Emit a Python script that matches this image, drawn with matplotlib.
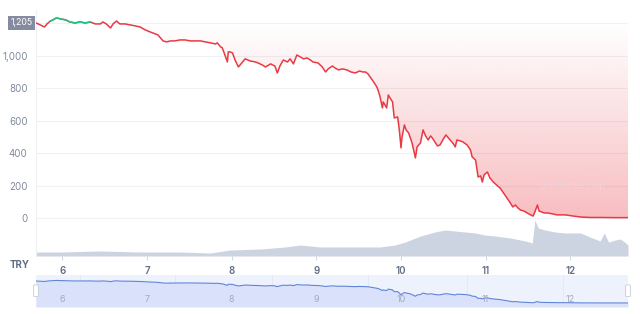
"""Price chart, TRY quote, with volume strip and navigator below."""

import matplotlib

matplotlib.use("Agg")
import matplotlib.pyplot as plt
import numpy as np
from matplotlib.patches import FancyBboxPatch, PathPatch

RED = "#ea3943"
GREEN = "#16c784"
VOLC = "#cdd4e1"
GRID = "#eff1f4"
MUTED = "#808a9d"
INK = "#616e85"
NAVBG = "#eef2fd"
NAVFILL = "#d9e2fa"
NAVLINE = "#5f84d8"

plt.rcParams.update({"font.family": ["Inter", "DejaVu Sans"], "font.size": 7})

# price series (x = day number)
DAYS = [5.69, 5.74, 5.79, 5.82, 5.86, 5.89, 5.93, 5.98, 6.04, 6.09, 6.15, 6.21,
        6.27, 6.33, 6.39, 6.45, 6.48, 6.52, 6.57, 6.60, 6.64, 6.68, 6.74, 6.80,
        6.86, 6.92, 6.98, 7.04, 7.10, 7.13, 7.16, 7.19, 7.23, 7.28, 7.33, 7.39,
        7.45, 7.51, 7.57, 7.63, 7.69, 7.75, 7.81, 7.83, 7.87, 7.89, 7.92, 7.95,
        7.96, 7.98, 8.01, 8.04, 8.08, 8.13, 8.16, 8.22, 8.28, 8.31, 8.36, 8.40,
        8.46, 8.51, 8.54, 8.57, 8.61, 8.66, 8.69, 8.73, 8.77, 8.81, 8.85, 8.89,
        8.93, 8.96, 9.02, 9.07, 9.11, 9.14, 9.19, 9.22, 9.26, 9.31, 9.36, 9.41,
        9.46, 9.51, 9.55, 9.58, 9.61, 9.66, 9.70, 9.72, 9.75, 9.78, 9.79, 9.83,
        9.85, 9.87, 9.90, 9.92, 9.96, 9.98, 10.00, 10.01, 10.04, 10.06, 10.09,
        10.11, 10.13, 10.17, 10.19, 10.23, 10.26, 10.29, 10.32, 10.35, 10.37,
        10.40, 10.43, 10.46, 10.50, 10.53, 10.56, 10.58, 10.62, 10.64, 10.66,
        10.70, 10.73, 10.78, 10.82, 10.84, 10.88, 10.91, 10.94, 10.96, 10.98,
        11.02, 11.05, 11.09, 11.14, 11.17, 11.21, 11.25, 11.29, 11.32, 11.35,
        11.38, 11.41, 11.45, 11.49, 11.53, 11.56, 11.58, 11.61, 11.63, 11.66,
        11.69, 11.73, 11.79, 11.84, 11.94, 12.03, 12.12, 12.23, 12.35, 12.53,
        12.68]
PRICE = [1205, 1193, 1180, 1199, 1217, 1224, 1236, 1230, 1224, 1211, 1205, 1211,
         1205, 1211, 1199, 1199, 1211, 1199, 1174, 1199, 1217, 1199, 1199, 1193,
         1187, 1180, 1162, 1149, 1137, 1131, 1112, 1094, 1088, 1094, 1094, 1100,
         1100, 1094, 1094, 1094, 1088, 1082, 1075, 1082, 1057, 1051, 1007, 964,
         1026, 1026, 1020, 976, 933, 964, 983, 970, 964, 958, 946, 933,
         952, 939, 896, 939, 976, 964, 983, 952, 1007, 995, 983, 989,
         976, 964, 958, 933, 902, 921, 939, 927, 915, 921, 915, 902,
         896, 908, 902, 902, 890, 853, 822, 803, 754, 680, 717, 680,
         760, 742, 717, 618, 624, 544, 433, 494, 575, 544, 525,
         494, 464, 371, 439, 464, 544, 507, 482, 507, 494,
         470, 445, 451, 488, 513, 494, 482, 457, 439, 482,
         476, 470, 451, 420, 377, 358, 253, 260, 222, 266,
         284, 247, 222, 198, 185, 155, 124, 93, 68, 80,
         62, 49, 43, 31, 19, 12, 37, 80, 43, 37,
         31, 31, 25, 19, 19, 12, 6, 3, 3, 2,
         2]
OPEN_PRICE = 1205

# volume, relative units
VOL_DAYS = [5.69, 5.98, 6.45, 6.92, 7.39, 7.75, 7.98, 8.34, 8.63, 8.81, 9.05,
            9.40, 9.75, 9.93, 10.05, 10.23, 10.40, 10.52, 10.64, 10.76, 10.88,
            10.99, 11.11, 11.29, 11.47, 11.55, 11.58, 11.62, 11.70, 11.82,
            11.94, 12.12, 12.23, 12.35, 12.40, 12.45, 12.53, 12.59, 12.64, 12.68]
VOLUME = [4, 4, 5, 4, 4, 3, 6, 7, 9, 11, 9,
          9, 9, 11, 14, 20, 24, 26, 25, 24, 23,
          21, 20, 18, 15, 13, 36, 28, 26, 24,
          23, 23, 19, 15, 23, 14, 16, 17, 14, 11]

DAY_TICKS = [6, 7, 8, 9, 10, 11, 12]
PRICE_TICKS = [0, 200, 400, 600, 800, 1000]
NAV_GRID = [6.21, 7.33, 8.48, 9.61, 10.78, 11.91]

XMIN, XMAX = 5.69, 12.68

days = np.array(DAYS)
price = np.array(PRICE, dtype=float)

fig = plt.figure(figsize=(6.4, 3.14), dpi=100)
rect = [36 / 640, 58 / 314, 592 / 640, 246 / 314]

# volume strip sits behind the price axes
axv = fig.add_axes(rect)
axv.fill_between(VOL_DAYS, VOLUME, 0, color=VOLC, lw=0)
axv.set_xlim(XMIN, XMAX)
axv.set_ylim(0, 246)
axv.axis("off")

ax = fig.add_axes(rect)
ax.patch.set_alpha(0)
ax.set_xlim(XMIN, XMAX)
ax.set_ylim(-235, 1285)

for t in PRICE_TICKS:
    ax.axhline(t, color=GRID, lw=0.8, zorder=0)
ax.axhline(OPEN_PRICE, color=GRID, lw=0.8, zorder=0)

# pink gradient between the opening price and the line
under = ax.fill_between(days, np.minimum(price, OPEN_PRICE), OPEN_PRICE,
                        color="none", lw=0)
clip = PathPatch(under.get_paths()[0], transform=ax.transData,
                 facecolor="none", edgecolor="none")
grad = np.zeros((256, 1, 4))
grad[..., :3] = matplotlib.colors.to_rgb(RED)
grad[:, 0, 3] = np.linspace(0.33, 0.0, 256)
im = ax.imshow(grad, extent=[XMIN, XMAX, 0, OPEN_PRICE], origin="lower",
               aspect="auto", zorder=1, interpolation="bilinear")
im.set_clip_path(clip)
ax.set_xlim(XMIN, XMAX)
ax.set_ylim(-235, 1285)

ax.plot(days, price, color=RED, lw=1.1, zorder=3)
ax.plot(days, np.ma.masked_less(price, OPEN_PRICE - 1), color=GREEN, lw=1.1,
        zorder=4)

ax.text(11.62, 200, "CoinMarketCap", color="#efd3dc", fontsize=6.5,
        va="center", ha="left", zorder=2)

for s in ["top", "right", "bottom"]:
    ax.spines[s].set_visible(False)
ax.spines["left"].set_color(GRID)
ax.set_yticks(PRICE_TICKS, [f"{t:,}" for t in PRICE_TICKS])
ax.tick_params(axis="y", length=0, pad=6, colors=MUTED, labelsize=7)
ax.set_xticks(DAY_TICKS, [str(d) for d in DAY_TICKS])
ax.tick_params(axis="x", length=3, width=0.6, color="#c9ced8", pad=4,
               labelcolor=INK, labelsize=7)
for lab in ax.get_xticklabels():
    lab.set_fontweight("semibold")

ax.text(-0.006, 1205, "1,205", transform=ax.get_yaxis_transform(),
        ha="right", va="center", color="white", fontsize=6.3, zorder=6,
        bbox=dict(boxstyle="square,pad=0.28", fc="#858ca2", ec="none"))
fig.text(20 / 640, 1 - 265 / 314, "TRY", ha="center", va="center",
         color=INK, fontsize=7, fontweight="bold")

# navigator
axn = fig.add_axes([36 / 640, 7 / 314, 592 / 640, 32 / 314])
axn.set_facecolor(NAVBG)
axn.fill_between(days, price, -219, color=NAVFILL, lw=0)
axn.plot(days, price, color=NAVLINE, lw=0.8)
for g in NAV_GRID:
    axn.axvline(g, color="#e3e8f5", lw=0.6, zorder=0)
axn.set_xlim(XMIN, XMAX)
axn.set_ylim(-219, 1534)
for d in DAY_TICKS:
    axn.text(d, 0.25, str(d), transform=axn.get_xaxis_transform(),
             ha="center", va="center", color="#a3abba", fontsize=6.5)
axn.set_xticks([])
axn.set_yticks([])
for s in axn.spines.values():
    s.set_visible(False)
for xh in (0.0, 1.0):
    axn.add_patch(FancyBboxPatch((xh - 0.004, 0.33), 0.008, 0.36,
                                 boxstyle="round,pad=0,rounding_size=0.004",
                                 transform=axn.transAxes, fc="white",
                                 ec="#c7ccd6", lw=0.6, clip_on=False,
                                 zorder=5))

fig.savefig("out.png", dpi=100)
